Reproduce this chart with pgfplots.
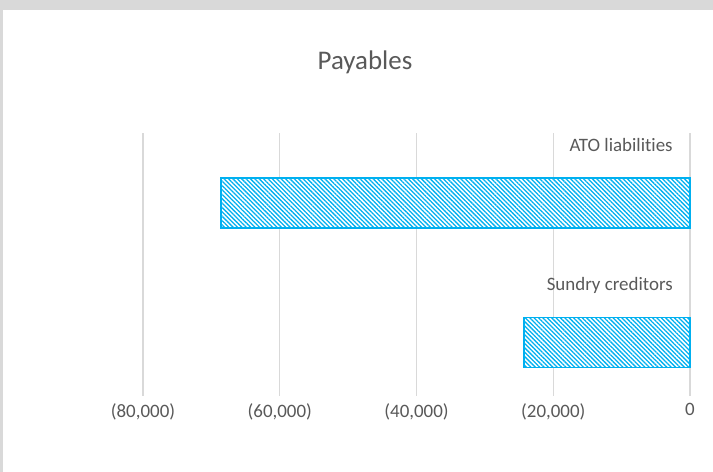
\documentclass[border=0pt]{standalone}
\usepackage{pgfplots}
\pgfplotsset{compat=1.18}
\usepackage{fontspec}
\setmainfont{Carlito}[RawFeature=-liga]
\usetikzlibrary{patterns.meta}
\definecolor{barc}{HTML}{00B0F0}
\definecolor{txt}{HTML}{595959}
\definecolor{gridc}{HTML}{D9D9D9}
\begin{document}
\begin{tikzpicture}[x=1bp,y=1bp]
\useasboundingbox (0,0) rectangle (713,472);
\fill[gridc] (0,0) rectangle (713,472);
\fill[white] (3,0) rectangle (713,462);
\node[txt, font=\fontsize{27}{32}\selectfont, inner sep=0] at (365,410) {Payables};
\begin{axis}[at={(143bp,76bp)}, anchor=south west, scale only axis,
  width=547bp, height=263bp,
  xbar, xmin=-80000, xmax=0, ymin=-0.383, ymax=1.502, bar width=50bp,
  axis line style={draw=none}, major tick style={draw=none},
  xmajorgrids, major grid style={gridc, line width=1.3bp},
  ytick=\empty, scaled x ticks=false,
  xtick={-80000,-60000,-40000,-20000,0},
  xticklabels={(80,000),(60,000),(40,000),(20,000),0},
  xticklabel style={txt, font=\fontsize{19}{22}\selectfont, yshift=-4bp},
  clip=false]
\addplot[draw=barc, line width=1.8bp, fill=white, postaction={pattern={Lines[angle=-45, distance=3.1bp, line width=1.3bp]}, pattern color=barc}]
  coordinates {(-68600,1) (-24300,0)};
\node[anchor=east, txt, font=\fontsize{19}{22}\selectfont, inner sep=0] at (axis cs:-2500,1.416) {ATO liabilities};
\node[anchor=east, txt, font=\fontsize{19}{22}\selectfont, inner sep=0] at (axis cs:-2500,0.412) {Sundry creditors};
\end{axis}
\end{tikzpicture}
\end{document}
